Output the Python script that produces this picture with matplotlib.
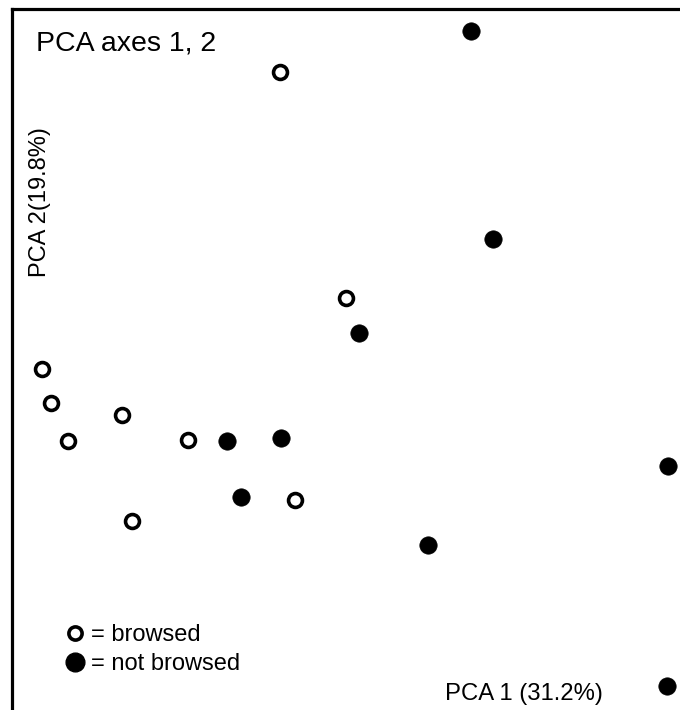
import matplotlib
matplotlib.use("Agg")
import matplotlib.pyplot as plt
from matplotlib.lines import Line2D

plt.rcParams['font.family'] = ['Liberation Sans', 'DejaVu Sans']

# PCA scores
browsed_pc1 = [-0.60, 0.06, -2.98, -2.89, -2.18, -2.72, -1.52, -0.45, -2.08]
browsed_pc2 = [3.28, 1.02, 0.31, -0.03, -0.15, -0.41, -0.40, -1.00, -1.21]
not_browsed_pc1 = [1.31, 1.53, 0.19, -1.13, -0.59, -0.99, 0.88, 3.28, 3.27]
not_browsed_pc2 = [3.69, 1.61, 0.67, -0.41, -0.38, -0.97, -1.45, -0.66, -2.86]

fig = plt.figure(figsize=(6.8, 7.1), dpi=100)
ax = fig.add_axes([11.5 / 680, 0, 1 - 11.5 / 680, 1 - 8.5 / 710])

ax.plot(browsed_pc1, browsed_pc2, 'o', ls='none', ms=10, mfc='white',
        mec='black', mew=2.6)
ax.plot(not_browsed_pc1, not_browsed_pc2, 'o', ls='none', ms=12.5,
        mfc='black', mec='black', mew=0.5)

ax.set_xlim(-3.285, 3.40)
ax.set_ylim(-3.10, 3.915)

for side in ['right', 'bottom']:
    ax.spines[side].set_visible(False)
for side in ['left', 'top']:
    ax.spines[side].set_linewidth(2.3)
ax.set_xticks([])
ax.set_yticks([])

ax.text(0.037, 0.968, 'PCA axes 1, 2', transform=ax.transAxes,
        fontsize=20.5, ha='left', va='top')
ax.text(0.0425, 0.724, 'PCA 2(19.8%)', transform=ax.transAxes,
        fontsize=17, rotation=90, ha='center', va='center')
ax.text(0.648, 0.023, 'PCA 1 (31.2%)', transform=ax.transAxes,
        fontsize=17.2, ha='left', va='center')

handles = [
    Line2D([], [], marker='o', ls='none', ms=9.5, mfc='white', mec='black',
           mew=2.6, label='= browsed'),
    Line2D([], [], marker='o', ls='none', ms=13.5, mfc='black', mec='black',
           label='= not browsed'),
]
ax.legend(handles=handles, loc='lower left', bbox_to_anchor=(0.082, 0.05),
          frameon=False, fontsize=17, handlelength=0.7, handletextpad=0.35,
          labelspacing=0.3, borderpad=0, borderaxespad=0)

fig.savefig('out.png', dpi=100)
